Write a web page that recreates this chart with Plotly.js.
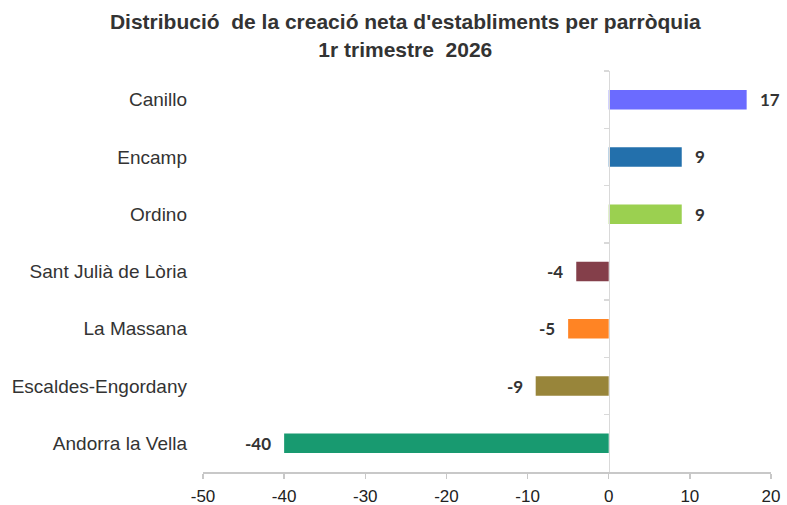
<!DOCTYPE html>
<html>
<head>
<meta charset="utf-8">
<script src="https://cdn.plot.ly/plotly-3.0.1.min.js"></script>
<style>html,body{margin:0;padding:0;background:#fff;}#chart{width:787px;height:505px;}</style>
</head>
<body>
<div id="chart"></div>
<script>
const parroquies = ["Canillo", "Encamp", "Ordino", "Sant Julià de Lòria", "La Massana", "Escaldes-Engordany", "Andorra la Vella"];
const valors = [17, 9, 9, -4, -5, -9, -40];
const colors = ["#6B6BFF", "#2370AC", "#9BD050", "#843F4A", "#FF8424", "#98853A", "#189A70"];
const xTicks = [-50, -40, -30, -20, -10, 0, 10, 20];
const xRange = [-50, 20];

const bars = {
  type: "bar",
  orientation: "h",
  x: valors,
  y: parroquies,
  marker: {color: colors},
  width: 0.34,
  hoverinfo: "x+y",
  textposition: "none"
};
const ghost = {
  type: "bar",
  orientation: "h",
  x: valors.map(() => 0),
  y: parroquies,
  yaxis: "y2",
  marker: {color: "rgba(0,0,0,0)"},
  hoverinfo: "skip",
  showlegend: false
};

const annotations = valors.map((v, i) => ({
  x: v, y: parroquies[i], xref: "x", yref: "y",
  text: "<b>" + String(v) + "</b>", showarrow: false,
  xanchor: v >= 0 ? "left" : "right",
  xshift: v >= 0 ? 11 : -11,
  font: {family: "Lato, 'Open Sans', sans-serif", size: 17, color: "#333333"}
}));

const zeroPos = (0 - xRange[0]) / (xRange[1] - xRange[0]);

const layout = {
  width: 787, height: 505,
  margin: {l: 203, r: 16, t: 71, b: 33},
  paper_bgcolor: "#ffffff", plot_bgcolor: "#ffffff",
  showlegend: false,
  title: {
    text: "<b>Distribució  de la creació neta d'establiments per parròquia<br>1r trimestre  2026</b>",
    x: 0.515, xref: "container", xanchor: "center",
    y: 0.942, yref: "container", yanchor: "top",
    font: {family: "'Liberation Sans', Arial, sans-serif", size: 21, color: "#333333"}
  },
  xaxis: {
    range: xRange, tickvals: xTicks, ticktext: xTicks.map(String),
    showgrid: false, zeroline: false,
    showline: true, linecolor: "#c8c8c8", linewidth: 1.5,
    ticks: "outside", ticklen: 5, tickcolor: "#c8c8c8", tickwidth: 1.5,
    ticklabelstandoff: 3,
    tickfont: {family: "'Liberation Sans', Arial, sans-serif", size: 17, color: "#222222"},
    automargin: false, fixedrange: true
  },
  yaxis: {
    type: "category", autorange: "reversed",
    showgrid: false, zeroline: false, showline: false, ticks: "",
    ticklabelstandoff: 15,
    tickfont: {family: "'Liberation Sans', Arial, sans-serif", size: 19, color: "#333333"},
    automargin: false, fixedrange: true
  },
  yaxis2: {
    type: "category", autorange: "reversed", overlaying: "y", matches: "y",
    anchor: "free", position: zeroPos, side: "left",
    showline: true, linecolor: "#d9d9d9", linewidth: 1.5,
    ticks: "outside", tickson: "boundaries", ticklen: 5, tickcolor: "#d9d9d9", tickwidth: 1.5,
    showticklabels: false, showgrid: false, zeroline: false,
    automargin: false, fixedrange: true
  },
  bargap: 0.66,
  annotations: annotations
};

Plotly.newPlot("chart", [bars, ghost], layout, {displayModeBar: false, staticPlot: true});
</script>
</body>
</html>
